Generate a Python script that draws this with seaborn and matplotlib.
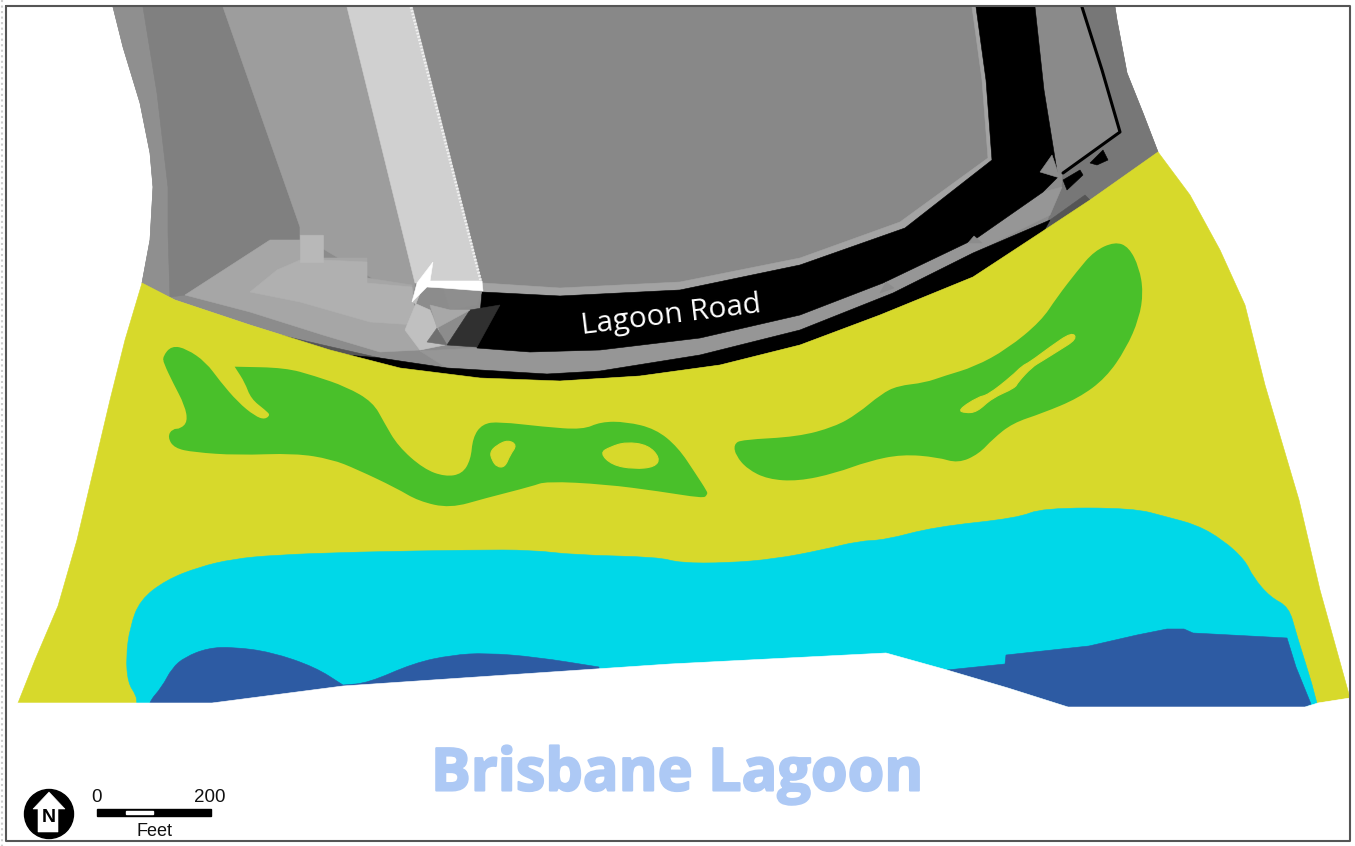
import matplotlib
matplotlib.use("Agg")
import matplotlib.pyplot as plt
import matplotlib.patheffects as pe
from matplotlib.patches import Circle, PathPatch, Rectangle
from matplotlib.path import Path
import seaborn as sns

# region outlines, in image pixels
terrain = [(113, 7), (123, 47), (140, 103), (150, 153), (153, 187), (150, 240), (142, 283), (175, 300), (250, 325),
           (330, 350), (400, 368), (480, 378), (560, 381), (640, 376), (720, 365), (800, 345), (880, 315),
           (973, 277), (1040, 233), (1090, 200), (1158, 152), (1143, 113), (1127, 73), (1117, 20), (1115, 7)]
outer_right = [(1082, 7), (1115, 7), (1117, 20), (1127, 73), (1143, 113), (1158, 152), (1090, 200), (1044, 231),
               (1050, 215), (1062, 187), (1063, 173), (1120, 132), (1102, 70)]
shade_band = [(113, 7), (143, 7), (157, 93), (168, 187), (168, 233), (170, 297), (142, 283), (150, 240),
              (153, 187), (150, 153), (140, 103), (123, 47)]
shade_dark = [(143, 7), (223, 7), (300, 227), (300, 240), (270, 240), (185, 295), (170, 297), (168, 233),
              (168, 187), (157, 93)]
shade_mid = [(223, 7), (347, 7), (415, 283), (412, 302), (300, 235), (300, 227)]
strip = [(347, 7), (413, 7), (482, 283), (430, 283), (415, 283)]
patch_a = [(185, 295), (270, 240), (300, 240), (300, 235), (323, 235), (323, 258), (367, 258), (367, 278),
           (412, 285), (412, 302), (440, 345), (420, 350), (380, 352), (323, 335), (250, 312)]
patch_b = [(277, 270), (300, 260), (323, 260), (367, 262), (367, 283), (412, 287), (416, 325), (370, 322),
           (300, 302), (250, 292)]
patch_c = [(300, 235), (323, 235), (323, 262), (300, 262)]
patch_d = [(433, 262), (428, 283), (412, 302), (430, 310), (445, 345), (420, 350), (405, 330)]
plateau = [(413, 7), (972, 7), (982, 80), (988, 158), (900, 222), (800, 258), (680, 282), (560, 288), (483, 283)]
plateau_rim = [(972, 7), (976, 7), (986, 80), (992, 160), (905, 228), (800, 265), (680, 290), (560, 296),
               (482, 292), (483, 283), (560, 288), (680, 282), (800, 258), (900, 222), (988, 158), (982, 80)]
road = [(976, 7), (1035, 7), (1044, 90), (1058, 177), (1043, 192), (977, 238), (883, 283), (800, 315),
        (700, 338), (600, 350), (530, 352), (477, 348), (482, 292), (560, 296), (680, 290), (800, 265),
        (905, 228), (992, 160), (986, 80)]
road_band = [(420, 351), (477, 348), (530, 352), (600, 350), (700, 338), (800, 315), (883, 283), (977, 238),
             (1043, 192), (1062, 187), (1050, 215), (973, 253), (893, 293), (800, 330), (700, 355), (600, 371),
             (547, 374), (447, 368)]
block = [(1035, 7), (1082, 7), (1102, 70), (1120, 132), (1063, 173), (1058, 177), (1044, 90)]
boundary_x = [1082, 1102, 1120, 1063]
boundary_y = [7, 70, 132, 173]
ridge_x = [411, 481]
ridge_y = [7, 282]
curb = [(347, 355), (380, 358), (447, 368), (547, 374), (600, 371), (700, 355), (800, 330), (893, 293), (973, 253),
        (1050, 220), (1044, 231), (973, 277), (880, 315), (800, 345), (720, 365), (640, 376), (560, 381),
        (513, 381), (430, 375), (363, 365)]
curb_fade = [(280, 335), (323, 345), (380, 358), (363, 365), (313, 353), (280, 342)]
curb_fade_right = [(1050, 220), (1085, 195), (1090, 200), (1044, 231)]
flash = [(412, 302), (417, 283), (433, 262), (430, 281), (482, 281), (483, 291), (443, 288), (427, 287)]
wedge_a = [(443, 288), (482, 291), (477, 305), (450, 310)]
wedge_b = [(447, 345), (470, 310), (500, 305), (477, 347)]
wedge_c = [(427, 342), (437, 328), (447, 345)]
wedge_d = [(430, 305), (450, 310), (470, 310), (437, 328)]
notches = [[(1040, 172), (1052, 155), (1060, 178)], [(968, 243), (974, 236), (982, 243)],
           [(880, 293), (886, 282), (894, 288)]]
lots = [[(1063, 180), (1080, 170), (1083, 175), (1067, 190)], [(1090, 163), (1103, 150), (1108, 160), (1097, 165)]]

meadow = [(142, 283), (175, 300), (250, 325), (330, 350), (400, 368), (480, 378), (560, 381), (640, 376),
          (720, 365), (800, 345), (880, 315), (973, 277), (1040, 233), (1090, 200), (1158, 152), (1190, 195),
          (1220, 250), (1245, 305), (1265, 385), (1299, 500), (1320, 590), (1350, 698), (1318, 703), (18, 703),
          (35, 660), (58, 606), (77, 540), (110, 400), (125, 340)]
shallow = [(137, 703), (136, 695), (128, 683), (126, 657), (130, 627), (140, 600), (166, 580), (199, 567), (233, 559),
           (275, 555), (355, 552), (473, 550), (532, 550), (574, 555), (658, 557), (680, 563), (727, 563), (775, 559),
           (822, 550), (859, 541), (885, 540), (934, 527), (1018, 518), (1042, 508), (1133, 508), (1167, 517),
           (1197, 525), (1223, 540), (1245, 560), (1253, 577), (1270, 597), (1289, 607), (1296, 633), (1318, 703),
           (1318, 720), (137, 720)]
deep_left = [(148, 703), (162, 687), (172, 668), (185, 657), (208, 648), (233, 647), (271, 652), (315, 667), (343, 685),
             (343, 685), (368, 683), (414, 663), (452, 655), (486, 653), (536, 657), (599, 667), (599, 667), (599, 720),
             (148, 720)]
deep_right = [(947, 670), (1005, 664), (1006, 655), (1089, 646), (1137, 635), (1167, 629), (1184, 629), (1193, 633),
              (1287, 638), (1296, 667), (1311, 704), (1305, 707), (1068, 707), (1008, 688)]
shore = [(18, 703), (212, 703), (343, 686), (670, 664), (886, 653), (947, 670), (1008, 688), (1068, 707), (1305, 707),
         (1318, 703), (1350, 698), (1350, 730), (18, 730)]
marsh_left = [(164, 357), (172, 347), (186, 350), (205, 363), (219, 382), (237, 403), (254, 417), (265, 421), (272, 415),
              (266, 409), (252, 398), (246, 382), (237, 368), (237, 368), (285, 369), (314, 377), (346, 388), (372, 403),
              (383, 423), (397, 447), (423, 470), (445, 478), (463, 475), (472, 460), (474, 438), (483, 425), (499, 423),
              (543, 428), (583, 431), (601, 423), (626, 423), (655, 430), (677, 448), (695, 475), (706, 492), (706, 494),
              (703, 497), (659, 490), (605, 483), (546, 480), (532, 485), (485, 497), (450, 507), (419, 500), (397, 487),
              (357, 468), (332, 458), (295, 452), (237, 454), (194, 451), (175, 447), (169, 437), (173, 430), (181, 430),
              (189, 422), (186, 405), (174, 382), (165, 363)]
marsh_right = [(735, 445), (742, 441), (798, 438), (835, 428), (858, 415), (882, 395), (898, 387), (925, 384), (945, 377),
               (975, 368), (1008, 350), (1042, 322), (1058, 298), (1078, 272), (1095, 252), (1115, 243), (1128, 248),
               (1138, 268), (1142, 292), (1138, 318), (1125, 348), (1105, 377), (1078, 397), (1042, 412), (1012, 422),
               (992, 438), (978, 453), (958, 462), (938, 456), (902, 453), (868, 460), (835, 472), (798, 480), (768, 478),
               (748, 468), (737, 455)]
islets = [[(490, 452), (497, 445), (508, 440), (517, 445), (510, 455), (505, 467), (497, 467), (492, 460)],
          [(600, 453), (610, 447), (626, 442), (648, 445), (660, 458), (655, 467), (634, 469), (612, 465)],
          [(958, 410), (978, 397), (988, 395), (1012, 376), (1022, 366), (1030, 362), (1050, 347), (1072, 332), (1077, 339),
           (1058, 351), (1042, 361), (1032, 367), (1018, 382), (1015, 388), (992, 398), (977, 412), (965, 413)]]
north_arrow = [(49, 792), (65, 809), (58, 809), (58, 832), (38, 832), (38, 809), (33, 809)]
frame_x = [6, 1350, 1350, 6, 6]
frame_y = [6, 6, 841, 841, 6]
margin_x = [2, 2]
margin_y = [0, 846]

sns.set_theme(style="white")
plt.rcParams["font.family"] = ["Liberation Sans", "DejaVu Sans"]

fig, ax = plt.subplots(figsize=(13.55, 8.46), dpi=100)
ax.set_position([0, 0, 1, 1])


def fill(points, color):
    xs, ys = zip(*points)
    ax.fill(xs, ys, color=color, lw=0.4)


def fill_round(points, color, lw=0.4):
    # quadratic curves through the edge midpoints, so the outline has no corners
    mids = [((a[0] + b[0]) / 2, (a[1] + b[1]) / 2) for a, b in zip(points, points[1:] + points[:1])]
    verts = [mids[-1]]
    codes = [Path.MOVETO]
    for p, m in zip(points, mids):
        verts += [p, m]
        codes += [Path.CURVE3, Path.CURVE3]
    ax.add_patch(PathPatch(Path(verts, codes), facecolor=color, edgecolor=color, lw=lw))


fill(terrain, "#8c8c8c")
fill(outer_right, "#777777")
fill(shade_band, "#8f8f8f")
fill(shade_dark, "#808080")
fill(shade_mid, "#9d9d9d")
fill(strip, "#d0d0d0")
fill(patch_a, "#a6a6a6")
fill(patch_b, "#b0b0b0")
fill(patch_c, "#b8b8b8")
fill(patch_d, "#c0c0c0")
fill(plateau, "#888888")
fill(plateau_rim, "#a3a3a3")
fill(block, "#8a8a8a")
fill(road_band, "#969696")
fill(road, "#000000")
fill(wedge_a, "#8e8e8e")
fill(wedge_b, "#303030")
fill(wedge_c, "#707070")
fill(wedge_d, "#a8a8a8")
fill(flash, "#ffffff")
fill(curb_fade, "#555555")
fill(curb_fade_right, "#555555")
fill(curb, "#000000")
for n in notches:
    fill(n, "#8c8c8c")
for lot in lots:
    fill(lot, "#000000")
sns.lineplot(x=boundary_x, y=boundary_y, sort=False, color="black", lw=2.2, estimator=None, ax=ax)
sns.lineplot(x=ridge_x, y=ridge_y, sort=False, color="#f2f2f2", lw=2, linestyle=(0, (0.6, 0.6)), estimator=None, ax=ax)

fill(meadow, "#d7d92b")
fill_round(shallow, "#00d8e8")
fill_round(deep_left, "#2d5ba3")
fill(deep_right, "#2d5ba3")
fill(shore, "white")
fill_round(marsh_left, "#49c02a", lw=1.8)
fill_round(marsh_right, "#49c02a", lw=1.8)
for i in islets:
    fill_round(i, "#d7d92b", lw=0.8)

ax.text(671, 316, "Lagoon Road", color="white", fontsize=21.5, rotation=7, ha="center", va="center",
        family="Open Sans", rotation_mode="anchor")
title = ax.text(677, 775, "Brisbane Lagoon", color="#adc9f5", fontsize=42.7, fontweight="bold", ha="center",
                va="center", family="Open Sans")
title.set_path_effects([pe.withStroke(linewidth=1.5, foreground="#adc9f5")])

# north arrow and scale bar
ax.add_patch(Circle((49, 814), 24.5, color="black"))
fill(north_arrow, "white")
ax.text(49, 818, "N", color="black", fontsize=14, fontweight="bold", ha="center", va="center")
ax.add_patch(Rectangle((97, 809.5), 114, 6.5, color="black"))
ax.add_patch(Rectangle((126, 811.5), 27, 2.7, color="white"))
ax.text(97, 797, "0", fontsize=13.5, ha="center", va="center", color="#111111")
ax.text(210, 797, "200", fontsize=13.5, ha="center", va="center", color="#111111")
ax.text(154, 831, "Feet", fontsize=13, ha="center", va="center", color="#111111")

sns.lineplot(x=frame_x, y=frame_y, sort=False, color="#555555", lw=1.5, estimator=None, ax=ax)
sns.lineplot(x=margin_x, y=margin_y, sort=False, color="#cfcfcf", lw=1.5, linestyle=":", estimator=None, ax=ax)

ax.set_xlim(0, 1355)
ax.set_ylim(846, 0)
ax.set_xticks([])
ax.set_yticks([])
ax.set_xlabel("")
ax.set_ylabel("")
sns.despine(ax=ax, left=True, bottom=True)
fig.savefig("out.png", dpi=100)
plt.close(fig)
